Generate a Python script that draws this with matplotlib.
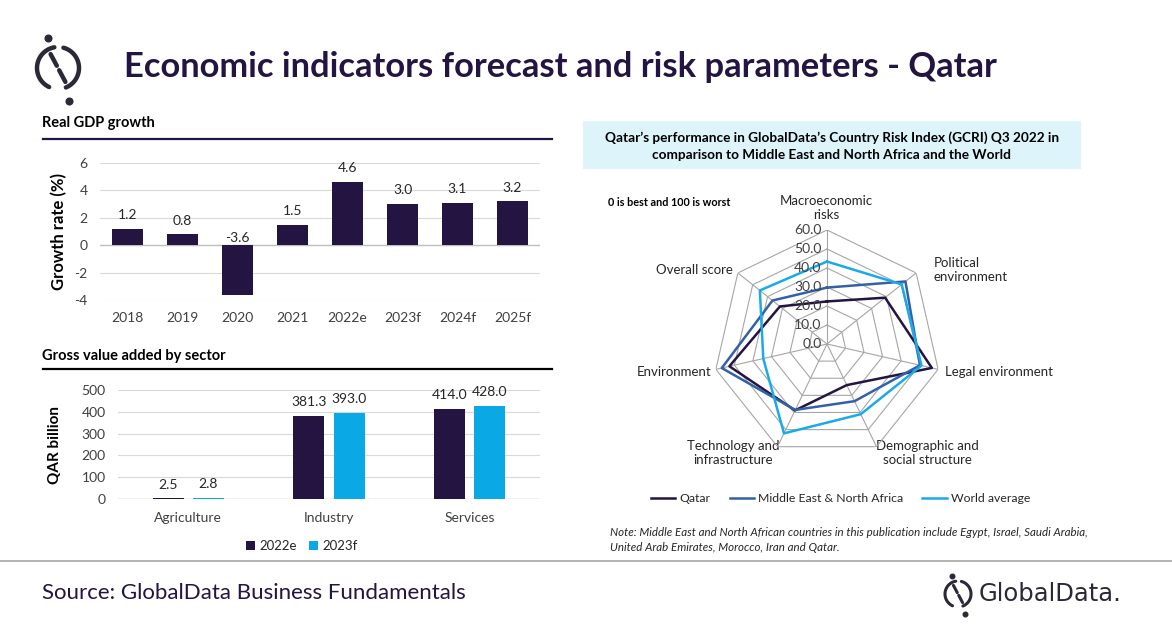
import matplotlib
matplotlib.use("Agg")
import matplotlib.pyplot as plt
import numpy as np
from matplotlib.patches import Rectangle

plt.rcParams["font.family"] = ["Lato", "DejaVu Sans"]

# ---- data ----
years = ["2018", "2019", "2020", "2021", "2022e", "2023f", "2024f", "2025f"]
gdp_growth = [1.2, 0.8, -3.6, 1.5, 4.6, 3.0, 3.1, 3.2]

sectors = ["Agriculture", "Industry", "Services"]
gva_2022e = [2.5, 381.3, 414.0]
gva_2023f = [2.8, 393.0, 428.0]

risk_axes = ["Macroeconomic\nrisks", "Political\nenvironment", "Legal environment",
             "Demographic and\nsocial structure", "Technology and\ninfrastructure",
             "Environment", "Overall score"]
qatar = [22.4, 39.1, 56.6, 24.0, 38.8, 52.7, 31.7]
mena = [29.7, 52.8, 50.2, 33.4, 38.5, 56.8, 36.7]
world = [43.4, 50.3, 51.0, 41.0, 52.2, 34.4, 45.2]
radar_ticks = [0, 10, 20, 30, 40, 50, 60]

DARK = "#231441"
LIGHT = "#0BA8E6"
MID = "#3260A9"
WORLD = "#1AAAE8"
TXT = "#262626"
TICK = "#404040"
GRID = "#D9D9D9"

W, H = 1172, 628
fig = plt.figure(figsize=(W / 100, H / 100), dpi=100)

# overlay in pixel coordinates for page decorations
bg = fig.add_axes([0, 0, 1, 1])
bg.set_xlim(0, W)
bg.set_ylim(H, 0)
bg.axis("off")


def px_axes(x0, y0, x1, y1, **kw):
    return fig.add_axes([x0 / W, 1 - y1 / H, (x1 - x0) / W, (y1 - y0) / H], **kw)


def draw_logo(cx, cy, r, lw, color):
    t = np.linspace(np.radians(100), np.radians(245), 60)
    bg.plot(cx + r * np.cos(t), cy - r * np.sin(t), color=color, lw=lw, solid_capstyle="round")
    t = np.linspace(np.radians(-68), np.radians(75), 60)
    bg.plot(cx + r * np.cos(t), cy - r * np.sin(t), color=color, lw=lw, solid_capstyle="round")
    a1, a2 = np.radians(118), np.radians(-62)
    p1 = (cx + 0.75 * r * np.cos(a1), cy - 0.75 * r * np.sin(a1))
    p2 = (cx + 0.75 * r * np.cos(a2), cy - 0.75 * r * np.sin(a2))
    m1 = (p1[0] + 0.42 * (p2[0] - p1[0]), p1[1] + 0.42 * (p2[1] - p1[1]))
    m2 = (p1[0] + 0.58 * (p2[0] - p1[0]), p1[1] + 0.58 * (p2[1] - p1[1]))
    bg.plot([p1[0], m1[0]], [p1[1], m1[1]], color=color, lw=lw, solid_capstyle="round")
    bg.plot([m2[0], p2[0]], [m2[1], p2[1]], color=color, lw=lw, solid_capstyle="round")
    bg.plot([cx - 0.48 * r], [cy - 1.42 * r], "o", color=color, ms=lw * 1.5)
    bg.plot([cx + 0.5 * r], [cy + 1.55 * r], "o", color=color, ms=lw * 1.5)


# title + logo
draw_logo(58, 68, 21, 3.2, "#2B2838")
bg.text(124, 67, "Economic indicators forecast and risk parameters - Qatar",
        fontsize=24.8, fontweight="bold", color=DARK, va="center", ha="left")

# section headers
bg.text(42, 123, "Real GDP growth", fontsize=10.5, fontweight="bold", color="black", va="center")
bg.plot([43, 552], [139, 139], color=DARK, lw=1.6)
bg.text(42, 356, "Gross value added by sector", fontsize=10.5, fontweight="bold", color="black", va="center")
bg.plot([43, 552], [369, 369], color="black", lw=1.6)

# footer
bg.plot([0, W], [561, 561], color="#A6A6A6", lw=1.2)
bg.text(42, 593, "Source: GlobalData Business Fundamentals", fontsize=16, color=DARK, va="center")
draw_logo(958, 594, 13, 2.2, "#2B2838")
bg.text(979, 594, "GlobalData.", fontsize=17.5, family=["DejaVu Sans"], color="#2B2838", va="center")

# ---- Real GDP growth ----
ax1 = px_axes(100, 163, 540, 300)
x = np.arange(len(years))
ax1.bar(x, gdp_growth, width=0.58, color=DARK, zorder=3)
for i, v in enumerate(gdp_growth):
    ax1.text(i, (v + 1.0) if v >= 0 else 0.5, f"{v:.1f}", ha="center", va="center",
             fontsize=10, color=TXT)
ax1.set_xlim(-0.5, len(years) - 0.5)
ax1.set_ylim(-4, 6)
ax1.set_yticks([-4, -2, 0, 2, 4, 6])
ax1.set_yticklabels(["-4", "-2", "0", "2", "4", "6"])
ax1.set_xticks(x)
ax1.set_xticklabels(years)
ax1.tick_params(length=0, labelsize=10, labelcolor=TICK)
ax1.tick_params(axis="y", pad=9)
ax1.tick_params(axis="x", pad=9)
ax1.grid(axis="y", color=GRID, lw=0.8, zorder=0)
ax1.axhline(0, color="#BFBFBF", lw=1, zorder=2)
for s in ax1.spines.values():
    s.set_visible(False)
ax1.set_ylabel("Growth rate (%)", fontsize=12, fontweight="bold", color="black", labelpad=5)

# ---- Gross value added by sector ----
ax2 = px_axes(118, 390, 540, 499)
xs = np.arange(len(sectors))
b1 = ax2.bar(xs - 0.143, gva_2022e, width=0.22, color=DARK, label="2022e", zorder=3)
b2 = ax2.bar(xs + 0.143, gva_2023f, width=0.22, color=LIGHT, label="2023f", zorder=3)
for i in range(len(sectors)):
    ax2.text(xs[i] - 0.143, gva_2022e[i] + 64, f"{gva_2022e[i]:.1f}", ha="center", va="center",
             fontsize=10, color=TXT)
    ax2.text(xs[i] + 0.143, gva_2023f[i] + 64, f"{gva_2023f[i]:.1f}", ha="center", va="center",
             fontsize=10, color=TXT)
ax2.set_xlim(-0.5, len(sectors) - 0.5)
ax2.set_ylim(0, 500)
ax2.set_yticks(range(0, 501, 100))
ax2.set_xticks(xs)
ax2.set_xticklabels(sectors)
ax2.tick_params(length=0, labelsize=10, labelcolor=TICK)
ax2.tick_params(axis="y", pad=9)
ax2.tick_params(axis="x", pad=9)
ax2.grid(axis="y", color=GRID, lw=0.8, zorder=0)
ax2.axhline(0, color="#BFBFBF", lw=1, zorder=2)
for s in ax2.spines.values():
    s.set_visible(False)
ax2.set_ylabel("QAR billion", fontsize=11, fontweight="bold", color="black", labelpad=14)
fig.legend(handles=[b1, b2], loc="center", bbox_to_anchor=(302 / W, 1 - 546 / H), ncol=2,
           frameon=False, fontsize=9.5, handlelength=0.7, handleheight=0.7,
           handletextpad=0.35, columnspacing=0.9, labelcolor=TXT)

# ---- Country risk radar ----
bg.add_patch(Rectangle((583, 121), 498, 48, facecolor="#DEF4FB", edgecolor="none"))
bg.text(832, 146, "Qatar\u2019s performance in GlobalData\u2019s Country Risk Index (GCRI) Q3 2022 in\n"
        "comparison to Middle East and North Africa and the World",
        fontsize=9.8, fontweight="bold", color="black", ha="center", va="center", linespacing=1.45)
bg.text(608, 202, "0 is best and 100 is worst", fontsize=7.8, fontweight="bold", color="black", va="center")

R = 114
ax3 = px_axes(827 - R, 344 - R, 827 + R, 344 + R, projection="polar")
ax3.set_theta_zero_location("N")
ax3.set_theta_direction(-1)
ax3.set_ylim(0, 60)
ax3.grid(False)
ax3.spines["polar"].set_visible(False)
ax3.set_xticks([])
ax3.set_yticks([])
ax3.patch.set_alpha(0)

theta = np.arange(len(risk_axes)) * 2 * np.pi / len(risk_axes)
closed = np.append(theta, theta[0])
for r in radar_ticks[1:]:
    ax3.plot(closed, [r] * len(closed), color="#A6A6A6", lw=0.8, zorder=1)
for t in theta:
    ax3.plot([t, t], [0, 60], color="#A6A6A6", lw=0.8, zorder=1)

l1, = ax3.plot(closed, np.append(qatar, qatar[0]), color=DARK, lw=1.8, label="Qatar", zorder=3)
l2, = ax3.plot(closed, np.append(mena, mena[0]), color=MID, lw=1.8,
               label="Middle East & North Africa", zorder=3)
l3, = ax3.plot(closed, np.append(world, world[0]), color=WORLD, lw=1.8, label="World average", zorder=3)
for r in radar_ticks:
    ax3.annotate(f"{r:.1f}", xy=(0, r), xytext=(-4, 0), textcoords="offset points",
                 ha="right", va="center", fontsize=10, color=TICK, zorder=4, annotation_clip=False)

# axis category labels (layout positions in pixels)
label_pos = [(826, 208, "center"), (934, 270, "left"), (945, 372, "left"),
             (927, 453, "center"), (733, 453, "center"), (711, 372, "right"), (733, 270, "right")]
for (lx, ly, ha), name in zip(label_pos, risk_axes):
    bg.text(lx, ly, name, fontsize=9.5, color=TXT, ha=ha, va="center", linespacing=1.25)

fig.legend(handles=[l1, l2, l3], loc="center left", bbox_to_anchor=(640 / W, 1 - 499 / H), ncol=3,
           frameon=False, fontsize=8.8, handlelength=2.0, handletextpad=0.3, columnspacing=1.6,
           labelcolor=TXT)

bg.text(610, 540, "Note: Middle East and North African countries in this publication include Egypt, "
        "Israel, Saudi Arabia,\nUnited Arab Emirates, Morocco, Iran and Qatar.",
        fontsize=8.25, style="italic", color=TXT, va="center", linespacing=1.4)

fig.savefig("out.png", dpi=100)
